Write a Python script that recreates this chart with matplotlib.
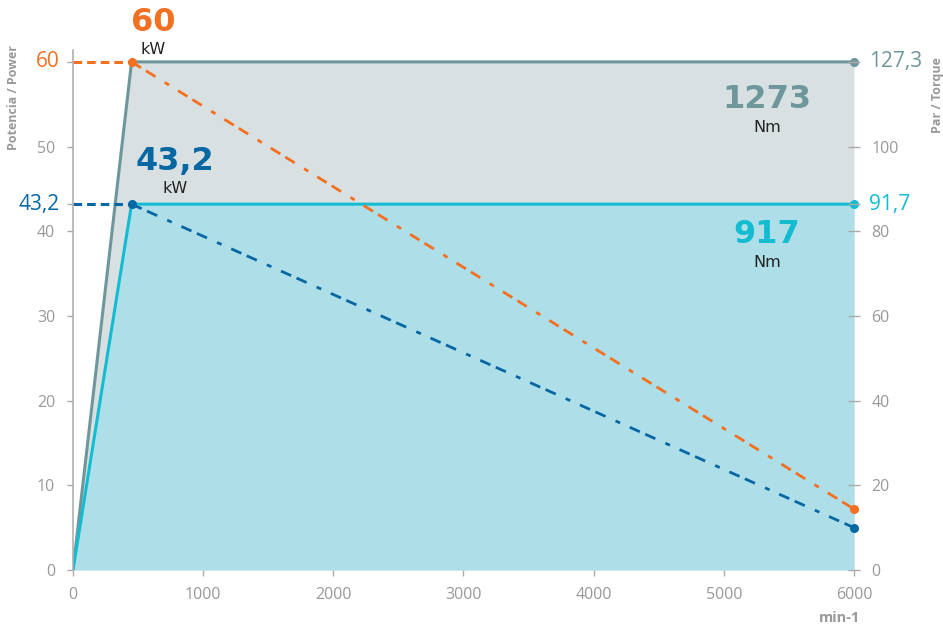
import matplotlib
matplotlib.use('Agg')
import matplotlib.pyplot as plt

# ---------------- data ----------------
speed = [0, 450, 6000]                 # min-1
power_max = [0, 60, 60]                # kW (grey area)
power_cont = [0, 43.2, 43.2]           # kW (cyan area)
decay_speed = [450, 6000]
decay_max = [60, 7.2]                  # orange dash-dot
decay_cont = [43.2, 5.0]               # blue dash-dot
x_ticks = [0, 1000, 2000, 3000, 4000, 5000, 6000]
left_ticks = [0, 10, 20, 30, 40, 50]
right_ticks = [0, 20, 40, 60, 80, 100]
peak_power = [60, 43.2]
peak_power_labels = ["60", "43,2"]
peak_torque_labels = ["127,3", "91,7"]
torque_big = ["1273", "917"]

# ---------------- style ----------------
plt.rcParams['lines.scale_dashes'] = False
C_GREY_FILL = '#d8e0e2'
C_CYAN_FILL = '#aedfe9'
C_GREY = '#6e979c'
C_CYAN = '#13bcd1'
C_ORANGE = '#f37021'
C_BLUE = '#0767a3'
C_TICK = '#999999'
C_SPINE = '#aaaaaa'
TICKFONT = ['Open Sans', 'DejaVu Sans']
BIGFONT = ['DejaVu Sans']

fig = plt.figure(figsize=(9.43, 6.27), dpi=100)
ax = fig.add_axes([0.07741, 0.0909, 0.82821, 0.8293])
ytop = 61.4
ax.set_xlim(0, 6000)
ax.set_ylim(0, ytop)

ax.fill_between(speed, power_max, 0, color=C_GREY_FILL, lw=0, zorder=1)
ax.fill_between(speed, power_cont, 0, color=C_CYAN_FILL, lw=0, zorder=2)
ax.plot(speed, power_max, color=C_GREY, lw=2.2, zorder=3, solid_joinstyle='miter')
ax.plot(speed, power_cont, color=C_CYAN, lw=2.2, zorder=4, solid_joinstyle='miter')

dd = (0, (8.0, 4.2, 8.0, 7.9, 3.6, 7.6))
ax.plot(decay_speed, decay_max, color=C_ORANGE, lw=2.0, ls=dd, dash_capstyle='butt', zorder=5)
ax.plot(decay_speed, decay_cont, color=C_BLUE, lw=2.0, ls=dd, dash_capstyle='butt', zorder=5)

# left guide dashes
ax.plot([0, decay_speed[0]], [peak_power[0]] * 2, color=C_ORANGE, lw=2.2,
        ls=(0, (6.2, 3.6)), dash_capstyle='butt', zorder=5, clip_on=False)
ax.plot([0, decay_speed[0]], [peak_power[1]] * 2, color=C_BLUE, lw=2.2,
        ls=(0, (6.2, 3.6)), dash_capstyle='butt', zorder=5, clip_on=False)

# dots
ms = 5.5
ax.plot([decay_speed[0]], [decay_max[0]], 'o', color=C_ORANGE, ms=ms, zorder=6, clip_on=False)
ax.plot([decay_speed[0]], [decay_cont[0]], 'o', color=C_BLUE, ms=ms, zorder=6, clip_on=False)
ax.plot([decay_speed[1]], [decay_max[1]], 'o', color=C_ORANGE, ms=ms, zorder=6, clip_on=False)
ax.plot([decay_speed[1]], [decay_cont[1]], 'o', color=C_BLUE, ms=ms, zorder=6, clip_on=False)
ax.plot([speed[-1]], [power_max[-1]], 'o', color=C_GREY, ms=ms, zorder=6, clip_on=False)
ax.plot([speed[-1]], [power_cont[-1]], 'o', color=C_CYAN, ms=ms, zorder=6, clip_on=False)

# spines
for s in ['top', 'right', 'bottom']:
    ax.spines[s].set_visible(False)
ax.spines['left'].set_color(C_SPINE)
ax.spines['left'].set_linewidth(1.1)
ax.spines['left'].set_zorder(7)

ax.set_xticks(x_ticks)
ax.set_xticklabels([str(v) for v in x_ticks], fontfamily=TICKFONT, fontsize=11.5, color=C_TICK)
ax.set_yticks(left_ticks + peak_power)
ax.set_yticklabels([str(v) for v in left_ticks] + ['', ''], fontfamily=TICKFONT,
                   fontsize=11.5, color=C_TICK)
ax.tick_params(axis='x', length=4.3, width=1.0, color=C_SPINE, pad=8)
ax.tick_params(axis='y', length=4.3, width=1.0, color=C_SPINE, pad=8.5)

# right axis
ax2 = ax.twinx()
ax2.set_ylim(0, 2 * ytop)
for s in ax2.spines.values():
    s.set_visible(False)
ax2.set_yticks(right_ticks + [2 * p for p in peak_power])
ax2.set_yticklabels([str(v) for v in right_ticks] + ['', ''], fontfamily=TICKFONT,
                    fontsize=11.5, color=C_TICK)
ax2.tick_params(axis='y', direction='inout', length=8, width=1.0, color=C_SPINE, pad=8.5)

# colored peak labels on the axes
for p, lab, col in zip(peak_power, peak_power_labels, [C_ORANGE, C_BLUE]):
    ax.annotate(lab, xy=(0, p), xycoords=('axes fraction', 'data'), xytext=(-9.4, 0),
                textcoords='offset points', ha='right', va='center', color=col,
                fontsize=15, fontfamily=TICKFONT, annotation_clip=False)
for p, lab, col in zip(peak_power, peak_torque_labels, [C_GREY, C_CYAN]):
    ax.annotate(lab, xy=(1, p), xycoords=('axes fraction', 'data'), xytext=(10.5, 0),
                textcoords='offset points', ha='left', va='center', color=col,
                fontsize=15, fontfamily=TICKFONT, annotation_clip=False)

# big value labels
ax.text(615, 64.6, peak_power_labels[0], color=C_ORANGE, fontsize=23, fontweight='bold',
        fontfamily=BIGFONT, ha='center', va='center', clip_on=False, zorder=8)
ax.text(615, 61.5, 'kW', color='#222222', fontsize=11.5, fontfamily=BIGFONT,
        ha='center', va='center', clip_on=False, zorder=8)
ax.text(784, 48.2, peak_power_labels[1], color=C_BLUE, fontsize=23, fontweight='bold',
        fontfamily=BIGFONT, ha='center', va='center', zorder=8)
ax.text(784, 45.1, 'kW', color='#222222', fontsize=11.5, fontfamily=BIGFONT,
        ha='center', va='center', zorder=8)
ax.text(5331, 55.5, torque_big[0], color=C_GREY, fontsize=23, fontweight='bold',
        fontfamily=BIGFONT, ha='center', va='center', zorder=8)
ax.text(5331, 52.3, 'Nm', color='#222222', fontsize=11.5, fontfamily=BIGFONT,
        ha='center', va='center', zorder=8)
ax.text(5331, 39.6, torque_big[1], color=C_CYAN, fontsize=23, fontweight='bold',
        fontfamily=BIGFONT, ha='center', va='center', zorder=8)
ax.text(5331, 36.3, 'Nm', color='#222222', fontsize=11.5, fontfamily=BIGFONT,
        ha='center', va='center', zorder=8)

# axis titles
fig.text(14 / 943, 1 - 98 / 627, 'Potencia / Power', rotation=90, ha='center', va='center',
         color=C_TICK, fontsize=9, fontweight='bold', fontfamily=TICKFONT)
fig.text(937 / 943, 1 - 95 / 627, 'Par / Torque', rotation=90, ha='center', va='center',
         color=C_TICK, fontsize=9, fontweight='bold', fontfamily=TICKFONT)
fig.text(840 / 943, 1 - 618 / 627, 'min-1', ha='center', va='center',
         color=C_TICK, fontsize=10.5, fontweight='bold', fontfamily=TICKFONT)

fig.savefig('out.png', dpi=100)
